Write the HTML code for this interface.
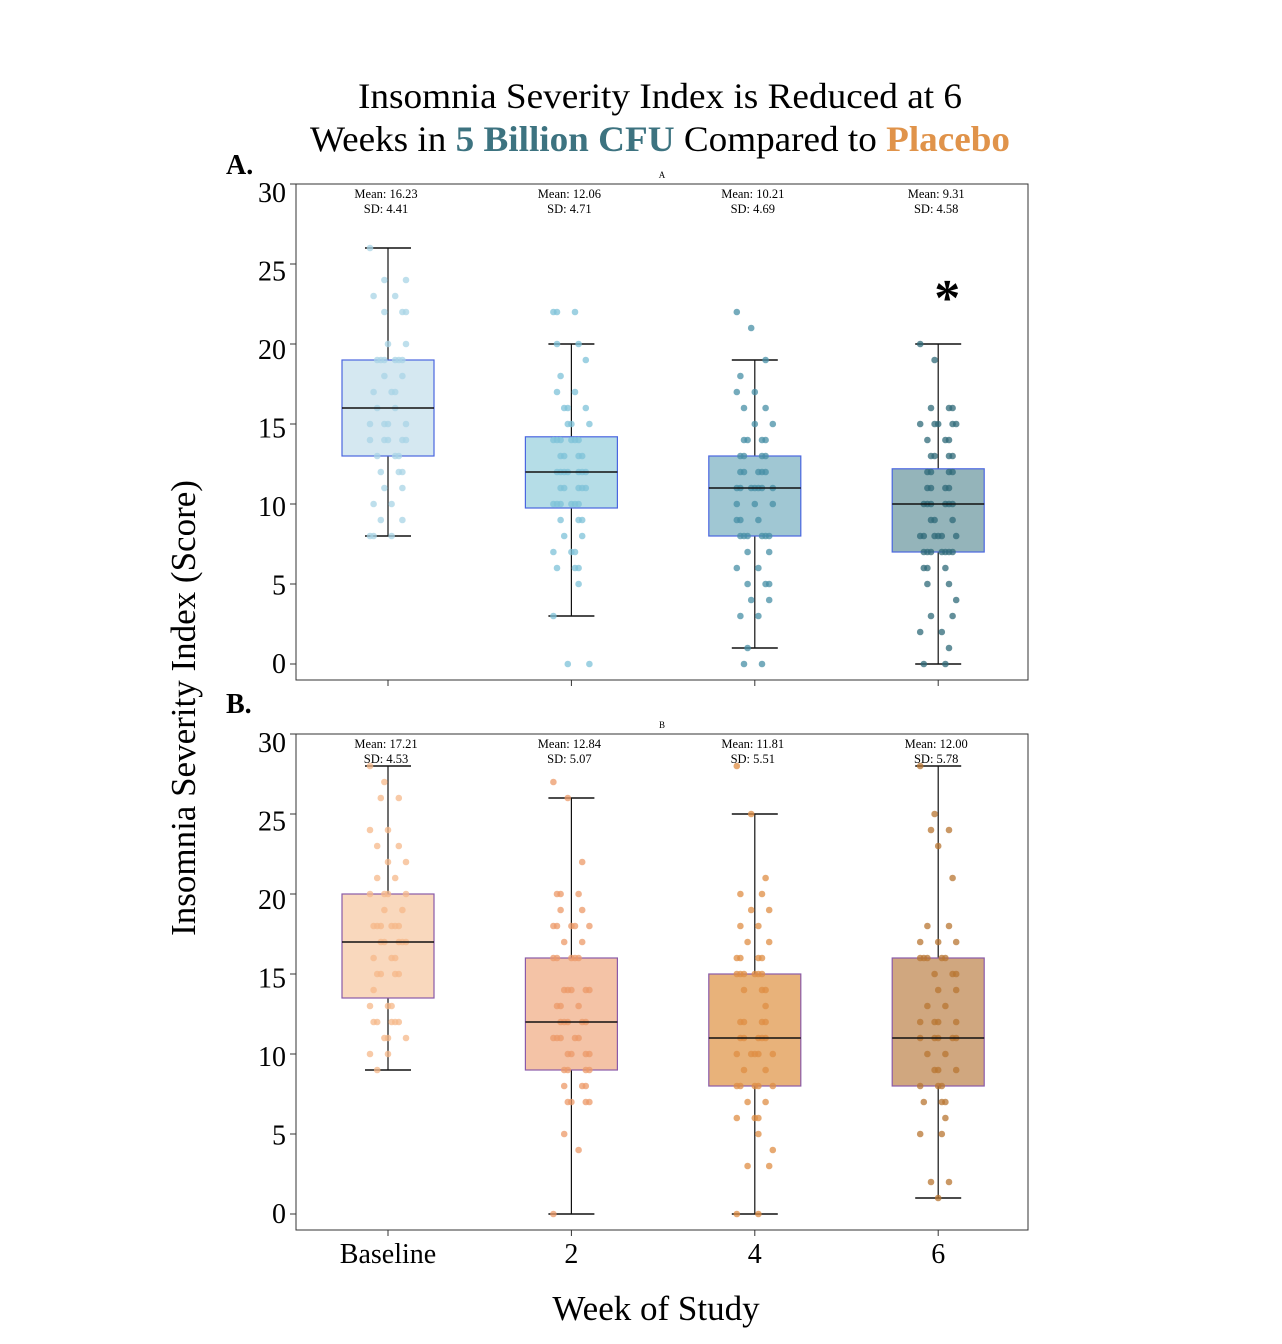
<!DOCTYPE html>
<html><head><meta charset="utf-8"><style>
html,body{margin:0;padding:0;background:#fff;}
svg{display:block;font-family:"Liberation Serif",serif;}
</style></head><body>
<svg id="chart" width="1282" height="1344" viewBox="0 0 1282 1344" xmlns="http://www.w3.org/2000/svg">
<text x="660" y="108" text-anchor="middle" font-size="36" textLength="604" lengthAdjust="spacingAndGlyphs">Insomnia Severity Index is Reduced at 6</text>
<text x="660" y="151" text-anchor="middle" font-size="36" textLength="700" lengthAdjust="spacingAndGlyphs">Weeks in <tspan font-weight="bold" fill="#3d7380">5 Billion CFU</tspan> Compared to <tspan font-weight="bold" fill="#e0934a">Placebo</tspan></text>
<text x="226" y="174" font-size="28" font-weight="bold">A.</text>
<text x="226" y="713" font-size="28" font-weight="bold">B.</text>
<text transform="translate(195,708) rotate(-90)" text-anchor="middle" font-size="35">Insomnia Severity Index (Score)</text>
<text x="656" y="1320" text-anchor="middle" font-size="35">Week of Study</text>
<g id="plots"></g>
</svg>
<script>
const categories = ["Baseline", "2", "4", "6"];
const yTicks = [0, 5, 10, 15, 20, 25, 30];
const meanLabelsA = ["16.23", "12.06", "10.21", "9.31"];
const sdLabelsA = ["4.41", "4.71", "4.69", "4.58"];
const meanLabelsB = ["17.21", "12.84", "11.81", "12.00"];
const sdLabelsB = ["4.53", "5.07", "5.51", "5.78"];
// box stats: [whiskerLow, q1, median, q3, whiskerHigh]
const boxesA = [[8,13,16,19,26],[3,9.75,12,14.2,20],[1,8,11,13,19],[0,7,10,12.2,20]];
const boxesB = [[9,13.5,17,20,28],[0,9,12,16,26],[0,8,11,15,25],[1,8,11,16,28]];
// point values as [value, count]
const pointsA = [
 [[26,1],[24,2],[23,2],[22,3],[20,2],[19,6],[18,2],[17,3],[16,2],[15,4],[14,5],[13,3],[12,3],[11,2],[10,2],[9,2],[8,3]],
 [[22,3],[20,2],[19,1],[18,1],[17,2],[16,3],[15,3],[14,6],[13,4],[12,7],[11,5],[10,6],[9,3],[8,2],[7,3],[6,3],[5,1],[3,1],[0,2]],
 [[22,1],[21,1],[19,1],[18,1],[17,2],[16,2],[15,2],[14,4],[13,4],[12,5],[11,7],[10,3],[9,3],[8,6],[7,2],[6,2],[5,3],[4,2],[3,2],[1,1],[0,2]],
 [[20,1],[19,1],[16,3],[15,5],[14,3],[13,4],[12,4],[11,4],[10,6],[9,3],[8,6],[7,7],[6,3],[5,2],[4,1],[3,2],[2,2],[1,1],[0,2]]
];
const pointsB = [
 [[28,1],[27,1],[26,2],[24,2],[23,2],[22,2],[21,2],[20,4],[19,2],[18,6],[17,5],[16,3],[15,4],[14,1],[13,3],[12,5],[11,3],[10,2],[9,1]],
 [[27,1],[26,1],[22,1],[20,3],[19,2],[18,5],[17,2],[16,5],[14,5],[13,3],[12,5],[11,5],[10,4],[9,4],[8,3],[7,4],[5,1],[4,1],[0,1]],
 [[28,1],[25,1],[21,1],[20,2],[19,2],[18,2],[17,2],[16,4],[15,6],[14,3],[13,1],[12,4],[11,5],[10,5],[9,2],[8,5],[7,2],[6,3],[5,1],[4,1],[3,2],[0,2]],
 [[28,1],[25,1],[24,2],[23,1],[21,1],[18,2],[17,3],[16,5],[15,3],[14,2],[13,2],[12,4],[11,5],[10,2],[9,3],[8,3],[7,3],[6,1],[5,2],[2,2],[1,1]]
];

const NS = "http://www.w3.org/2000/svg";
const root = document.getElementById("plots");
function mk(tag, attrs, parent){const e=document.createElementNS(NS,tag);for(const k in attrs)e.setAttribute(k,attrs[k]);(parent||root).appendChild(e);return e;}
const xCenter = i => 388 + i*183.4;

function panel(top, zeroY, boxes, pts, means, sds, fills, edge, ptColors, tag, showX){
  const y = v => zeroY - v*16;
  const g = mk("g",{});
  
  
  const frame = mk("rect",{x:296,y:top,width:732,height:496,fill:"none",stroke:"#333","stroke-width":1},g);
  
  
  const st = mk("text",{x:662,y:top-6,"text-anchor":"middle","font-size":9},g);
  st.textContent = tag.toUpperCase();
  
  
  yTicks.forEach(t=>{
    const l = mk("line",{x1:290,x2:296,y1:y(t),y2:y(t),stroke:"#333"},g);
    
    
    const tx = mk("text",{x:286,y:y(t)+9+t*0.3,"text-anchor":"end","font-size":28},g);
    tx.textContent = t;
    
    
  });
  categories.forEach((c,i)=>{
    const cx = xCenter(i);
    const xt = mk("line",{x1:cx,x2:cx,y1:top+496,y2:top+502,stroke:"#333"},g);
    
    
    if(showX){
      const lab = mk("text",{x:cx,y:top+529,"text-anchor":"middle","font-size":28},g);
      lab.textContent = c;
      
      
    }
    const b = boxes[i];
    const wl = mk("line",{x1:cx,x2:cx,y1:y(b[0]),y2:y(b[4]),stroke:"#111","stroke-width":1.2},g);
    
    
    [b[0],b[4]].forEach(v=>{
      const cap = mk("line",{x1:cx-23,x2:cx+23,y1:y(v),y2:y(v),stroke:"#111","stroke-width":1.4},g);
      
      
    });
    const box = mk("rect",{x:cx-46,y:y(b[3]),width:92,height:y(b[1])-y(b[3]),fill:fills[i],stroke:edge,"stroke-width":1.2},g);
    
    
    let k=0;
    pts[i].forEach(([v,n])=>{
      for(let j=0;j<n;j++){
        const off = (((k*37+j*13)%11)-5)*3.6;
        k++;
        const p = mk("circle",{cx:cx+off,cy:y(v),r:3.3,fill:ptColors[i],"fill-opacity":0.75},g);
        
        
      }
    });
    const med = mk("line",{x1:cx-46,x2:cx+46,y1:y(b[2]),y2:y(b[2]),stroke:"#111","stroke-width":1.4},g);
    
    
    const m = mk("text",{x:cx-2,y:top+14,"text-anchor":"middle","font-size":12.5},g);
    m.textContent = "Mean: "+means[i];
    
    
    const s = mk("text",{x:cx-2,y:top+29,"text-anchor":"middle","font-size":12.5},g);
    s.textContent = "SD: "+sds[i];
    
    
  });
  return y;
}
const yA = panel(184, 664, boxesA, pointsA, meanLabelsA, sdLabelsA,
  ["#d5e8f1","#b5dde7","#a0c7d3","#94b4ba"], "#4a66e0",
  ["#a8d4e6","#7dc2d8","#478fa6","#2f6a78"], "a", false);
panel(734, 1214, boxesB, pointsB, meanLabelsB, sdLabelsB,
  ["#f9d8bd","#f4c3a6","#e8b27a","#d0a77f"], "#8a5aa8",
  ["#f5b88a","#ec9a68","#df8d44","#b87532"], "b", true);
const star = mk("text",{x:xCenter(3)+9,y:yA(22.3)+8,"text-anchor":"middle","font-size":52,"font-weight":"bold"});
star.textContent = "*";


</script>
</body></html>
